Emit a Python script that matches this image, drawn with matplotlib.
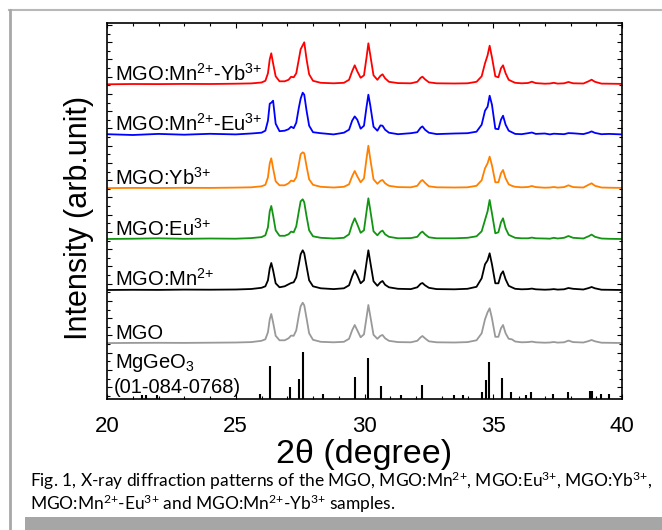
import matplotlib
matplotlib.use("Agg")
import matplotlib.pyplot as plt
from matplotlib.ticker import FixedLocator, MultipleLocator
from matplotlib.lines import Line2D
from matplotlib.patches import Rectangle
import numpy as np

plt.rcParams['font.family'] = ['Liberation Sans', 'DejaVu Sans']
plt.rcParams['mathtext.default'] = 'regular'

# ---------------- data ----------------
two_theta = [
    20.0, 21.0, 22.0, 23.0, 24.0, 25.0, 25.6, 26.0, 26.15, 26.25,
    26.32, 26.38, 26.45, 26.55, 26.7, 26.9, 27.05, 27.15, 27.25, 27.35,
    27.45, 27.52, 27.6, 27.66, 27.75, 27.85, 28.0, 28.3, 28.8, 29.2,
    29.4, 29.52, 29.62, 29.72, 29.85, 29.98, 30.08, 30.15, 30.22, 30.35,
    30.5, 30.62, 30.7, 30.8, 30.95, 31.3, 31.8, 32.05, 32.18, 32.25,
    32.35, 32.5, 32.8, 33.5, 34.0, 34.35, 34.55, 34.68, 34.78, 34.86,
    34.95, 35.08, 35.2, 35.3, 35.38, 35.48, 35.6, 35.72, 35.85, 36.1,
    36.35, 36.5, 36.65, 37.0, 37.2, 37.35, 37.5, 37.75, 37.92, 38.1,
    38.5, 38.7, 38.82, 38.95, 39.2, 39.5, 40.0,
]

int_mn_yb = [
    0.0, 0.3, 0.2, 0.4, 0.3, 0.6, 0.9, 1.8, 3.5, 11,
    25, 31, 21, 8, 3, 3, 4.5, 7.5, 7, 11,
    25, 35, 39, 42, 25, 10, 3.5, 1.5, 1.0, 1.5,
    4.5, 13, 19, 13, 6.5, 9, 27, 41, 30, 9,
    4.5, 8.5, 10, 6, 2.5, 1.2, 1.0, 2.5, 6.5, 7.6,
    5, 2, 1.0, 0.8, 1.0, 2.5, 8, 21, 29, 38.6,
    27, 8, 7, 16, 19, 11, 4.5, 3, 1.5, 1.0,
    1.3, 2.6, 1.2, 0.6, 0.8, 1.5, 0.7, 1.0, 2.3, 1.0,
    0.8, 3.0, 4.6, 2.5, 0.7, 0.6, 0.4,
]

int_mn_eu = [
    0.5, -0.3, 0.8, 0.0, 0.9, 0.3, 1.2, 2.0, 4, 14,
    31, 32, 34, 11, 3.5, 4, 5.5, 8, 6.5, 12,
    27, 36, 42, 40, 24, 9, 2.5, 1.5, 0.3, 2.0,
    5, 14, 18.3, 15, 6, 9, 28, 40, 30, 8,
    4, 9.3, 9, 5, 2, 0.5, 1.5, 2.5, 7, 8.3,
    5, 2, 0.6, 1.2, 1.5, 3, 10, 24, 28, 39,
    30, 6, 5.5, 15, 19, 10, 4, 2.5, 0.8, 0.5,
    1.5, 2.2, 0.8, 1.2, 0.3, 1.0, 0.8, 0.5, 1.6, 1.4,
    0.6, 2.0, 3.3, 1.8, 0.5, 0.8, 0.3,
]

int_yb = [
    0.2, 0.4, 0.3, 0.5, 0.4, 0.7, 1.0, 2.0, 3.5, 11,
    25, 30, 20, 7, 3, 3, 5, 7.7, 7, 11,
    24, 34, 36, 35, 22, 9, 3.5, 1.5, 0.8, 1.5,
    4, 12, 17.3, 12, 6, 10, 30, 42.6, 30, 9,
    4.5, 7.5, 8.3, 5, 2.5, 1.2, 1.0, 2.5, 7, 8.3,
    5.5, 2, 1.0, 0.8, 1.0, 2.5, 8, 20, 25, 31.7,
    23, 6, 6, 15, 18.3, 10, 4, 2.5, 1.5, 1.0,
    1.3, 2.3, 1.2, 0.6, 0.8, 1.3, 0.7, 1.2, 3.0, 1.2,
    0.8, 3.5, 5.0, 2.5, 0.8, 0.6, 0.4,
]

int_eu = [
    0.3, 0.6, 1.0, 0.5, 0.8, 0.6, 1.2, 2.2, 4, 12,
    28, 33.3, 24, 9, 3.5, 3.5, 5, 7.7, 7, 13,
    28, 38, 40, 37, 23, 9, 3, 1.5, 0.8, 1.5,
    5, 15, 21, 15, 6.5, 9, 28, 41, 30, 8,
    4, 7.5, 8.7, 5, 2.5, 1.0, 1.2, 2.5, 6.5, 7.7,
    5, 2, 1.0, 1.0, 1.5, 3, 8, 19.3, 28, 39.3,
    26, 6, 7, 17, 21, 11, 4.5, 3, 1.5, 1.0,
    1.0, 1.7, 1.0, 0.8, 0.6, 1.5, 0.8, 1.5, 3.3, 1.5,
    0.8, 3.0, 4.7, 2.5, 0.8, 0.5, 0.3,
]

int_mn = [
    0.3, 0.5, 0.4, 0.7, 0.6, 0.8, 1.3, 2.5, 4, 10,
    22, 27.3, 20, 7, 3, 4, 6, 7.3, 8, 13,
    26, 36, 40, 37, 24, 10, 4, 2, 1.2, 2,
    5, 14, 20, 15, 7, 10, 28, 40, 29, 9,
    4.5, 8, 9.3, 5.5, 3, 1.5, 1.2, 3, 6.5, 7.3,
    5, 2.5, 1.2, 1.0, 1.5, 3.5, 12, 26, 30, 37,
    26, 7, 7, 16, 19, 11, 4.5, 3, 1.5, 1.0,
    1.2, 1.7, 1.0, 0.6, 0.8, 1.2, 0.7, 1.0, 2.3, 1.5,
    0.8, 2.2, 3.3, 2.0, 0.6, 0.5, 0.3,
]

int_mgo = [
    0.2, 0.4, 0.5, 0.4, 0.6, 0.8, 1.2, 2.5, 4, 11,
    24, 29.3, 21, 7.5, 3, 3, 5, 7.7, 7.5, 13,
    28, 37, 40.6, 38, 25, 10, 3.5, 1.5, 1.0, 1.5,
    4.5, 13, 18.3, 13, 6, 9, 26, 38.3, 28, 8.5,
    4.5, 7.5, 8.3, 5, 2.5, 1.2, 1.0, 2.5, 6, 7.3,
    5, 2, 1.0, 0.8, 1.2, 3, 10, 24, 31, 35,
    25, 6.5, 6.5, 15, 18.3, 10, 4.5, 4, 1.8, 1.0,
    1.2, 1.7, 1.0, 0.6, 0.8, 1.3, 0.7, 1.0, 2.7, 1.2,
    0.8, 2.2, 3.3, 2.0, 0.6, 0.5, 0.3,
]

# MgGeO3 reference pattern (01-084-0768)
ref_pos = [21.35, 21.5, 21.95, 25.94, 26.34, 27.1, 27.46, 27.63, 28.4,
           29.64, 30.14, 30.65, 31.4, 32.24, 33.46, 33.81, 34.56, 34.72,
           34.85, 35.34, 35.7, 36.28, 36.48, 37.32, 37.89, 38.77, 38.84,
           39.2, 39.48]
ref_int = [4, 4, 4, 5, 33, 12, 20, 47, 5,
           22, 41, 13, 4, 14, 4, 4, 7, 19,
           37, 21, 7, 4, 7, 5, 7, 8, 8,
           5, 5]

sample_labels = ['MGO', 'MGO:Mn$^{2{+}}$', 'MGO:Eu$^{3{+}}$', 'MGO:Yb$^{3{+}}$',
                 'MGO:Mn$^{2{+}}$-Eu$^{3{+}}$', 'MGO:Mn$^{2{+}}$-Yb$^{3{+}}$']
sample_data = [int_mgo, int_mn, int_eu, int_yb, int_mn_eu, int_mn_yb]
sample_colors = ['#999999', '#000000', '#139413', '#ff8000', '#0000ff', '#ff0000']
stack_offsets = [55.7, 108.7, 159.7, 210.7, 264.3, 314.7]

x_ticks = [20, 25, 30, 35, 40]

# ---------------- figure ----------------
W, H = 662, 530
fig = plt.figure(figsize=(W / 100, H / 100), dpi=100)
ax = fig.add_axes([107 / W, 1 - 399 / H, (622 - 107) / W, (399 - 23) / H])

tt = np.array(two_theta)
for lab, data, col, off in zip(sample_labels, sample_data, sample_colors, stack_offsets):
    ax.plot(tt, np.array(data) + off, color=col, lw=1.3)
    ax.text(20.33, off + 4, lab, fontsize=14.5, va='baseline', ha='left')

ax.vlines(ref_pos, 0, ref_int, color='k', lw=1.5)
ax.text(20.33, 30.7, 'MgGeO$_3$', fontsize=14.5, va='baseline', ha='left')
ax.text(20.27, 5.7, '(01-084-0768)', fontsize=14.5, va='baseline', ha='left')

ax.set_xlim(20, 40)
ax.set_ylim(0, 376)
ax.set_xticks(x_ticks)
ax.set_xticklabels([str(v) for v in x_ticks])
ax.xaxis.set_minor_locator(MultipleLocator(1))
step = 8.622
ymaj = [374 - 2 * step * j for j in range(22)]
ymin = [374 - step * (2 * j + 1) for j in range(22)]
ax.yaxis.set_major_locator(FixedLocator(ymaj))
ax.yaxis.set_minor_locator(FixedLocator(ymin))
ax.set_yticklabels([])
ax.tick_params(which='both', direction='in', top=True, right=True, width=0.8)
ax.tick_params(which='major', length=3.8)
ax.tick_params(which='minor', length=2.2)
ax.tick_params(axis='x', labelsize=16, pad=12.5)
for s in ax.spines.values():
    s.set_linewidth(1.2)

ax.set_xlabel('2θ (degree)', fontsize=24.5, labelpad=1.5)
fig.text(79 / W, 1 - 218 / H, 'Intensity (arb.unit)', fontsize=22,
         rotation=90, ha='center', va='center')

# caption
cap1 = 'Fig. 1, X-ray diffraction patterns of the MGO, MGO:Mn$^{2{+}}$, MGO:Eu$^{3{+}}$, MGO:Yb$^{3{+}}$,'
cap2 = 'MGO:Mn$^{2{+}}$-Eu$^{3{+}}$ and MGO:Mn$^{2{+}}$-Yb$^{3{+}}$ samples.'
cfam = ['Lato', 'DejaVu Sans']
t1 = fig.text(30 / W, 1 - 487.3 / H, cap1, fontsize=11, family=cfam, va='baseline', ha='left')
t2 = fig.text(30 / W, 1 - 510 / H, cap2, fontsize=11, family=cfam, va='baseline', ha='left')
fig.canvas.draw()
r = fig.canvas.get_renderer()
w1 = t1.get_window_extent(r).width
fs = 11 * 622 / w1
t1.set_fontsize(fs)
t2.set_fontsize(fs)

# page frame
fig.add_artist(Line2D([8.5 / W, 1], [1 - 9.5 / H, 1 - 9.5 / H], transform=fig.transFigure,
                      color='#b8b8b8', lw=1.5))
fig.add_artist(Line2D([9.5 / W, 9.5 / W], [1 - 9.5 / H, 0], transform=fig.transFigure,
                      color='#a8a8a8', lw=2.0))
fig.add_artist(Rectangle((25 / W, 0), 1 - 25 / W, 12.7 / H, transform=fig.transFigure,
                         color='#a6a6a6', lw=0))

fig.savefig('out.png', dpi=100)
